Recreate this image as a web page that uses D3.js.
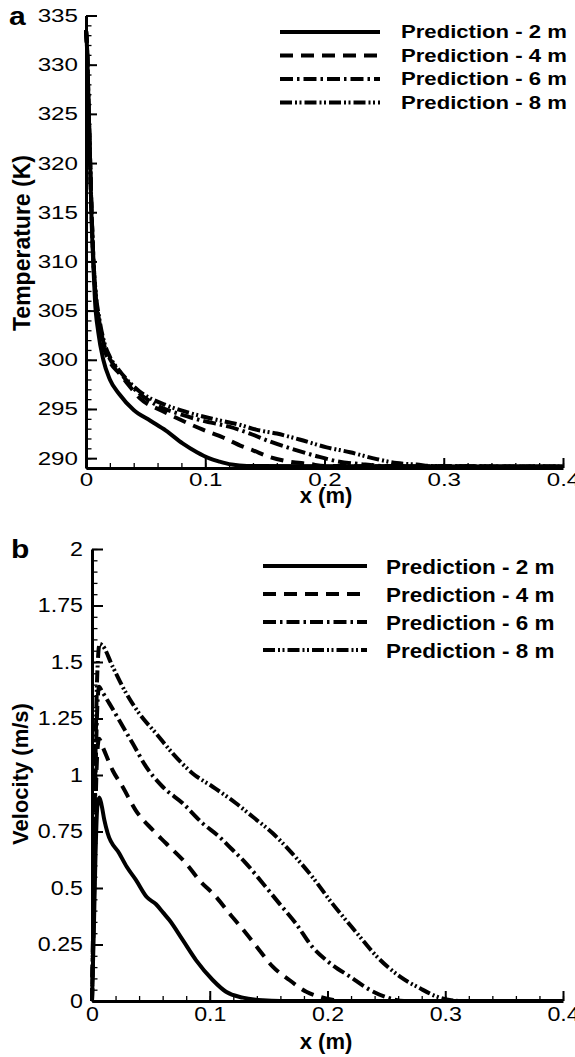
<!DOCTYPE html>
<html>
<head>
<meta charset="utf-8">
<script src="https://cdn.jsdelivr.net/npm/d3@7"></script>
<style>
  body { margin: 0; background: #fff; }
  svg { display: block; }
  text { font-family: "Liberation Sans", Arial, Helvetica, sans-serif; fill: #000; }
</style>
</head>
<body>
<svg id="chart"></svg>
<script>
// ---------------- data ----------------
const seriesNames = ["Prediction - 2 m", "Prediction - 4 m", "Prediction - 6 m", "Prediction - 8 m"];

// panel a : temperature (K) vs x (m)
const temp2m = [[0,333.5],[0.0011,331],[0.002,326.5],[0.0034,320.4],[0.0045,315],[0.0062,309.5],[0.0075,306.1],
  [0.0103,302.8],[0.0145,300.0],[0.02,298.0],[0.028,296.5],[0.04,294.9],[0.054,293.8],[0.067,292.8],[0.081,291.5],
  [0.093,290.6],[0.103,290.0],[0.112,289.65],[0.122,289.35],[0.135,289.2],[0.4,289.15]];
const temp4m = [[0,333.5],[0.0011,331],[0.002,326.5],[0.0034,320.4],[0.0047,315],[0.0063,310],[0.008,306.5],
  [0.011,303.5],[0.015,301.2],[0.02,299.8],[0.028,298.6],[0.034,297.7],[0.045,296.1],[0.064,294.8],[0.081,293.8],
  [0.098,292.9],[0.115,292.1],[0.131,291.2],[0.14,290.8],[0.152,290.2],[0.168,289.7],[0.188,289.4],[0.2,289.2],[0.4,289.15]];
const temp6m = [[0,333.5],[0.0011,331],[0.002,326.5],[0.0034,320.4],[0.0047,315],[0.0063,310],[0.008,306.8],
  [0.011,304],[0.015,301.6],[0.02,300.1],[0.028,298.8],[0.04,297.1],[0.059,295.4],[0.078,294.5],[0.098,293.8],
  [0.12,293.2],[0.1375,292.5],[0.154,291.7],[0.174,290.9],[0.1935,290.2],[0.21,289.7],[0.23,289.4],[0.25,289.2],[0.4,289.15]];
const temp8m = [[0,333.5],[0.0011,331],[0.002,326.5],[0.0034,320.4],[0.0047,315],[0.0063,310],[0.008,307],
  [0.011,304.3],[0.015,301.9],[0.02,300.3],[0.028,298.9],[0.0447,296.8],[0.067,295.4],[0.084,294.7],[0.106,294.0],
  [0.1286,293.4],[0.1426,292.9],[0.16,292.5],[0.179,291.9],[0.2018,291.1],[0.2214,290.6],[0.2438,289.9],
  [0.2605,289.5],[0.2773,289.35],[0.29,289.2],[0.4,289.15]];

// panel b : velocity (m/s) vs x (m)
const vel2m = [[0,0],[0.0015,0.3],[0.003,0.65],[0.0045,0.86],[0.0062,0.9],[0.008,0.87],[0.0105,0.8],[0.0133,0.742],
  [0.0232,0.653],[0.0295,0.594],[0.0374,0.535],[0.0465,0.46],[0.0544,0.428],[0.0606,0.39],[0.0657,0.358],[0.077,0.27],
  [0.0883,0.181],[0.1025,0.093],[0.1138,0.041],[0.128,0.015],[0.145,0.003],[0.16,0],[0.4,0]];
const vel4m = [[0,0],[0.0015,0.4],[0.003,0.85],[0.0045,1.1],[0.006,1.16],[0.009,1.125],[0.0176,1.02],[0.026,0.948],
  [0.037,0.845],[0.0515,0.757],[0.0628,0.698],[0.0798,0.609],[0.0911,0.535],[0.1053,0.461],[0.1166,0.388],[0.1308,0.3],
  [0.142,0.226],[0.1535,0.152],[0.1676,0.093],[0.182,0.041],[0.193,0.019],[0.205,0.005],[0.215,0],[0.4,0]];
const vel6m = [[0,0],[0.0015,0.5],[0.003,1.0],[0.0045,1.3],[0.006,1.39],[0.0085,1.37],[0.0147,1.317],[0.023,1.243],
  [0.0345,1.14],[0.0459,1.037],[0.06,0.948],[0.077,0.875],[0.094,0.786],[0.108,0.727],[0.1195,0.668],[0.1308,0.609],
  [0.145,0.521],[0.159,0.432],[0.173,0.344],[0.187,0.24],[0.2015,0.17],[0.219,0.108],[0.236,0.049],[0.253,0.012],
  [0.265,0],[0.4,0]];
const vel8m = [[0,0],[0.0015,0.5],[0.003,1.1],[0.0045,1.45],[0.0065,1.58],[0.0085,1.575],[0.0176,1.479],[0.029,1.362],
  [0.04,1.273],[0.0544,1.184],[0.0685,1.096],[0.0855,1.007],[0.1025,0.948],[0.1223,0.875],[0.1365,0.815],
  [0.1535,0.742],[0.17,0.653],[0.187,0.55],[0.204,0.432],[0.225,0.3],[0.242,0.196],[0.2616,0.108],[0.2786,0.056],
  [0.293,0.019],[0.305,0.003],[0.315,0],[0.4,0]];

// tick values
const xTicks = [0, 0.1, 0.2, 0.3, 0.4];
const xMinor = d3.range(0, 21).map(i => i / 50);
const tempTicks = [290, 295, 300, 305, 310, 315, 320, 325, 330, 335];
const tempMinor = d3.range(289, 336);
const velTicks = [0, 0.25, 0.5, 0.75, 1, 1.25, 1.5, 1.75, 2];
const velMinor = d3.range(0, 41).map(i => i / 20);

// ---------------- drawing ----------------
const width = 575, height = 1057;
const svg = d3.select("#chart").attr("width", width).attr("height", height);

// line styles for the four series
const dashes = [null, "13,8", "13,4,2.5,4", "12,3,2,2.5,2,3"];

// horizontally stretched text, like the original figure
function stretch(sel, sx) {
  sel.each(function() {
    const t = d3.select(this);
    const x = +t.attr("x") || 0, y = +t.attr("y") || 0;
    t.attr("x", 0).attr("y", 0)
     .attr("transform", "translate(" + x + "," + y + ") scale(" + sx + ",1)");
  });
}

function drawPanel(p) {
  const g = svg.append("g");
  const x = d3.scaleLinear().domain([0, 0.4]).range([p.left, 563]);
  const y = d3.scaleLinear().domain(p.yDomain).range([p.bottom, p.top]);

  // minor ticks
  g.append("g").attr("transform", "translate(0," + p.bottom + ")")
    .call(d3.axisBottom(x).tickValues(xMinor).tickFormat("").tickSize(-5).tickSizeOuter(0))
    .call(a => a.select(".domain").remove())
    .selectAll("line").attr("stroke-width", 1.3);
  g.append("g").attr("transform", "translate(" + p.left + ",0)")
    .call(d3.axisLeft(y).tickValues(p.yMinor).tickFormat("").tickSize(-5.5).tickSizeOuter(0))
    .call(a => a.select(".domain").remove())
    .selectAll("line").attr("stroke-width", 1.3);

  // major ticks + labels
  const xa = g.append("g").attr("transform", "translate(0," + p.bottom + ")")
    .call(d3.axisBottom(x).tickValues(xTicks).tickFormat(d => String(d)).tickSize(-10).tickSizeOuter(0).tickPadding(p.xPad));
  const ya = g.append("g").attr("transform", "translate(" + p.left + ",0)")
    .call(d3.axisLeft(y).tickValues(p.yTicks).tickFormat(d => String(d)).tickSize(-11).tickSizeOuter(0).tickPadding(p.yPad));
  [xa, ya].forEach(a => {
    a.selectAll(".tick line").attr("stroke-width", 2);
    a.select(".domain").attr("stroke-width", 3);
    a.selectAll("text").attr("font-size", p.tickFont).attr("font-family", null);
    stretch(a.selectAll("text"), p.tickSx);
  });

  // curves
  const line = d3.line().x(d => x(d[0])).y(d => y(d[1])).curve(d3.curveMonotoneX);
  g.append("g").selectAll("path")
    .data(p.series)
    .enter().append("path")
    .attr("d", line)
    .attr("fill", "none")
    .attr("stroke", "#000")
    .attr("stroke-width", 4)
    .attr("stroke-dasharray", (d, i) => dashes[i]);

  // legend
  const lg = g.append("g");
  seriesNames.forEach((name, i) => {
    const ly = p.legY[i];
    lg.append("line")
      .attr("x1", p.legX1).attr("x2", p.legX2).attr("y1", ly).attr("y2", ly)
      .attr("stroke", "#000").attr("stroke-width", 4)
      .attr("stroke-dasharray", dashes[i]);
    lg.append("text")
      .attr("x", p.legTx).attr("y", ly).attr("dy", "0.36em")
      .attr("font-size", p.legFont).attr("font-weight", "bold")
      .text(name);
  });
  stretch(lg.selectAll("text"), p.legSx);

  // axis titles
  g.append("text")
    .attr("transform", "translate(" + p.yTitleX + "," + p.yTitleY + ") rotate(-90)")
    .attr("dy", "0.35em")
    .attr("text-anchor", "middle")
    .attr("font-size", p.yTitleFont).attr("font-weight", "bold")
    .text(p.yTitle);
  g.append("text")
    .attr("x", 326).attr("y", p.xTitleY)
    .attr("text-anchor", "middle")
    .attr("font-size", 22).attr("font-weight", "bold")
    .text("x (m)");

  // panel letter
  const pl = g.append("text")
    .attr("x", p.letterX).attr("y", p.letterY)
    .attr("font-size", 25).attr("font-weight", "bold")
    .text(p.letter);
  stretch(pl, 1.2);
}

drawPanel({
  letter: "a", letterX: 9, letterY: 25,
  left: 86, top: 15.5, bottom: 468,
  yDomain: [289, 335], yTicks: tempTicks, yMinor: tempMinor,
  series: [temp2m, temp4m, temp6m, temp8m],
  tickFont: 18.6, tickSx: 1.3, xPad: 5, yPad: 8,
  legX1: 280, legX2: 380, legTx: 401, legY: [32, 55.5, 79, 102.5], legFont: 17.7, legSx: 1.25,
  yTitle: "Temperature (K)", yTitleFont: 23, yTitleX: 22, yTitleY: 243, xTitleY: 503
});

drawPanel({
  letter: "b", letterX: 11, letterY: 558,
  left: 92, top: 549, bottom: 1001,
  yDomain: [0, 2], yTicks: velTicks, yMinor: velMinor,
  series: [vel2m, vel4m, vel6m, vel8m],
  tickFont: 19.5, tickSx: 1.19, xPad: 6, yPad: 9,
  legX1: 263, legX2: 367, legTx: 386, legY: [566, 594, 622, 650], legFont: 21, legSx: 1.07,
  yTitle: "Velocity (m/s)", yTitleFont: 22, yTitleX: 20, yTitleY: 774, xTitleY: 1049
});
</script>
</body>
</html>
